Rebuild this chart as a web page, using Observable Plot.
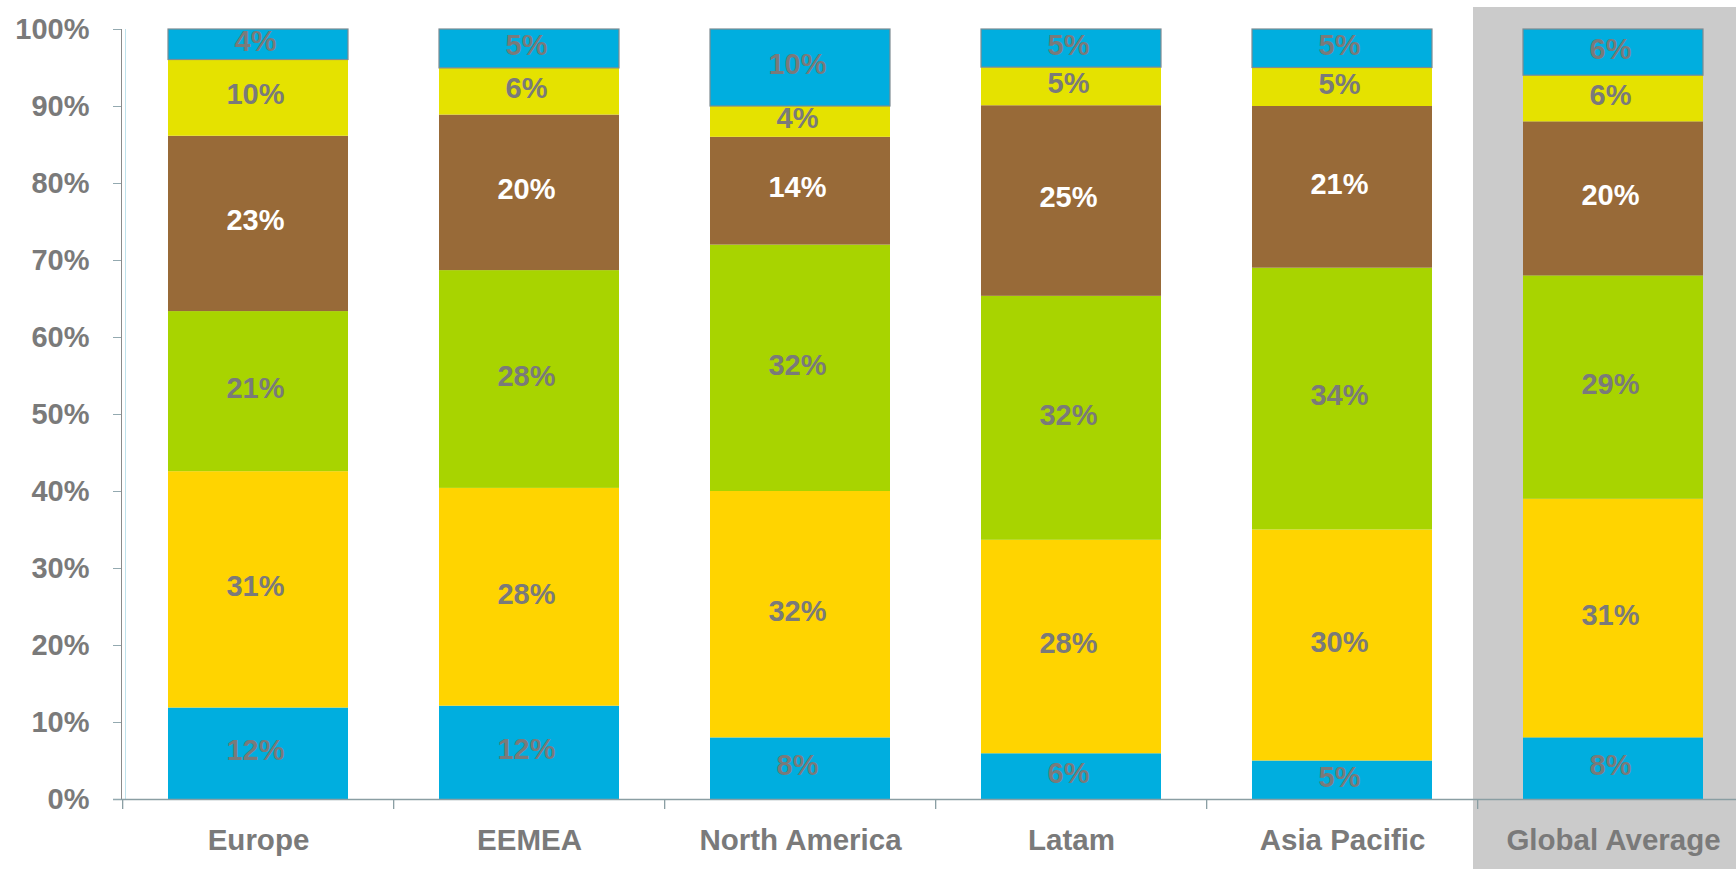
<!DOCTYPE html>
<html>
<head>
<meta charset="utf-8">
<script src="https://cdn.jsdelivr.net/npm/d3@7"></script>
<script src="https://cdn.jsdelivr.net/npm/@observablehq/plot@0.6"></script>
<style>
  html, body { margin: 0; padding: 0; background: #fff; overflow: hidden; width: 1736px; height: 869px; }
</style>
</head>
<body>
<div id="chart"></div>
<script>
// Categories (regions) along the x axis
const regions = ["Europe", "EEMEA", "North America", "Latam", "Asia Pacific", "Global Average"];
const highlighted = "Global Average";

// Stack segments, bottom to top (percent labels as shown)
const seriesNames = ["Segment 1", "Segment 2", "Segment 3", "Segment 4", "Segment 5", "Segment 6"];
const seg1 = [12, 12, 8, 6, 5, 8];
const seg2 = [31, 28, 32, 28, 30, 31];
const seg3 = [21, 28, 32, 32, 34, 29];
const seg4 = [23, 20, 14, 25, 21, 20];
const seg5 = [10, 6, 4, 5, 5, 6];
const seg6 = [4, 5, 10, 5, 5, 6];
const seriesColors = ["#00AEDF", "#FFD400", "#A8D400", "#986A38", "#E5E200", "#00AEDF"];
const whiteLabelSeries = "Segment 4";
const outlinedSeries = "Segment 6";

// y tick values (fraction of the whole)
const yTicks = [0, 0.1, 0.2, 0.3, 0.4, 0.5, 0.6, 0.7, 0.8, 0.9, 1];

const segs = [seg1, seg2, seg3, seg4, seg5, seg6];
const data = [];
regions.forEach((r, i) => {
  seriesNames.forEach((s, j) => {
    data.push({region: r, series: s, value: segs[j][i]});
  });
});

const textGray = "#7a7a7a";
const axisGray = "#8a9ea3";
const font = "'Liberation Sans', Arial, Helvetica, sans-serif";

const xRange = [121, 1751];
const step = (xRange[1] - xRange[0]) / regions.length;

const stackOpts = {x: "region", y: "value", z: "series", offset: "normalize"};

const chart = Plot.plot({
  width: 1736,
  height: 869,
  marginLeft: 121,
  marginRight: 0,
  marginTop: 29,
  marginBottom: 70,
  style: {fontFamily: font, color: textGray, background: "transparent", maxWidth: "none", overflow: "visible"},
  x: {domain: regions, range: xRange, paddingInner: 0.334, paddingOuter: 0.167, axis: null, label: null},
  y: {domain: [0, 1], axis: null, label: null},
  color: {domain: seriesNames, range: seriesColors},
  opacity: {type: "identity"},
  marks: [
    // highlight background for the global average column
    Plot.barY([highlighted], {x: d => d, y1: 0, y2: 1, fill: "#cbcbcb",
      insetLeft: -50, insetRight: -80, insetTop: -22, insetBottom: -90}),
    // stacked bars
    Plot.barY(data, Plot.stackY({...stackOpts, fill: "series"})),
    // outline on the top segment
    Plot.barY(data, Plot.stackY({...stackOpts, fill: "none", stroke: "#7d8b92", strokeWidth: 1.2,
      strokeOpacity: d => d.series === outlinedSeries ? 1 : 0})),
    // segment labels
    Plot.text(data, Plot.stackY({...stackOpts,
      text: d => d.series === whiteLabelSeries ? null : d.value + "%",
      fill: textGray, fontSize: 29, fontWeight: "bold", dy: -3, dx: -3})),
    Plot.text(data, Plot.stackY({...stackOpts,
      text: d => d.series === whiteLabelSeries ? d.value + "%" : null,
      fill: "white", fontSize: 29, fontWeight: "bold", dy: -3, dx: -3})),
    // axis lines
    Plot.frame({anchor: "left", stroke: "#8a8a8a"}),
    Plot.frame({anchor: "left", stroke: "#bfe2ec", dx: 4}),
    Plot.ruleY([0], {stroke: axisGray, strokeWidth: 1.3, insetLeft: -8}),
    // category boundary ticks
    Plot.ruleX(regions, {x: d => d, dx: -step / 2, y1: 0, y2: 0, insetBottom: -10, stroke: axisGray, strokeWidth: 1.3}),
    // axes
    Plot.axisY({ticks: yTicks, tickFormat: d => Math.round(d * 100) + "%", tickSize: 8, tickPadding: 24,
      fontSize: 29, fontWeight: "bold", stroke: "#93a9b0", fill: textGray, label: null}),
    Plot.axisX({tickSize: 0, tickPadding: 30, fontSize: 29.5, fontWeight: "bold", fill: textGray, label: null})
  ]
});

document.getElementById("chart").appendChild(chart);
</script>
</body>
</html>
